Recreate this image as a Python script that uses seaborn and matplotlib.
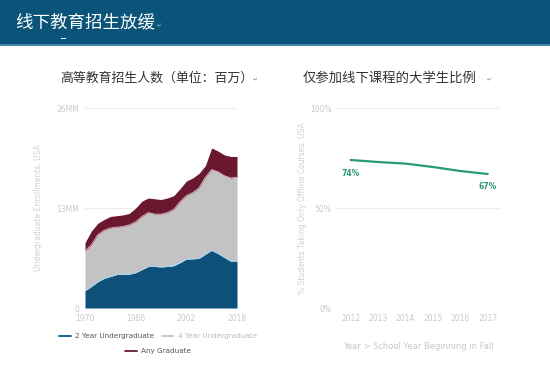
import matplotlib
matplotlib.use("Agg")
import matplotlib.pyplot as plt
from matplotlib.patches import Rectangle
from matplotlib.lines import Line2D
import seaborn as sns
import pandas as pd

# ---------------- data ----------------
years = [1970, 1972, 1974, 1976, 1978, 1980, 1982, 1984, 1986, 1988, 1990, 1992,
         1994, 1996, 1998, 2000, 2002, 2004, 2006, 2008, 2010, 2012, 2014, 2016, 2018]
two_year = [2.25, 2.8, 3.4, 3.85, 4.1, 4.35, 4.4, 4.4, 4.6, 5.0, 5.4, 5.4,
            5.35, 5.4, 5.5, 5.9, 6.35, 6.4, 6.45, 7.0, 7.5, 7.1, 6.6, 6.1, 6.1]
four_year = [5.15, 5.4, 6.1, 6.25, 6.3, 6.15, 6.2, 6.4, 6.6, 6.9, 7.0, 6.8,
             6.85, 7.0, 7.3, 7.9, 8.25, 8.6, 9.15, 10.0, 10.5, 10.6, 10.6, 10.8, 10.9]
graduate = [1.1, 1.8, 1.5, 1.4, 1.5, 1.5, 1.5, 1.5, 1.8, 2.0, 1.9, 2.0,
            1.9, 1.9, 1.8, 1.7, 1.9, 1.9, 1.9, 1.5, 2.8, 2.7, 2.7, 2.8, 2.7]
left_yticks = [0, 13, 26]
left_ytick_labels = ["0", "13MM", "26MM"]
left_xticks = [1970, 1986, 2002, 2018]

pct_years = [2012, 2013, 2014, 2015, 2016, 2017]
pct_offline = [74, 73, 72.2, 70.5, 68.5, 67]
right_yticks = [0, 50, 100]
right_ytick_labels = ["0%", "50%", "100%"]

C_BLUE = "#0e5079"
C_GRAY = "#c3c3c3"
C_MAROON = "#6a1830"
C_GREEN = "#2a9a76"
C_TICK = "#c9c9c9"

sns.set_theme(style="white")
plt.rcParams['font.family'] = ['Noto Sans CJK SC', 'DejaVu Sans']

fig = plt.figure(figsize=(5.5, 3.87), dpi=100)
W, H = 550, 387

def fx(px):
    return px / W

def fy(py):
    return 1 - py / H

# header band
fig.patches.append(Rectangle((0, fy(44)), 1, 44 / H, transform=fig.transFigure,
                             facecolor="#0b5479", edgecolor="none", zorder=0))
fig.patches.append(Rectangle((0, fy(46)), 1, 2 / H, transform=fig.transFigure,
                             facecolor="#3f86a8", edgecolor="none", zorder=0))
fig.patches.append(Rectangle((fx(61), fy(39)), 5 / W, 1.5 / H, transform=fig.transFigure,
                             facecolor="white", edgecolor="none", zorder=1))
fig.text(fx(15), fy(22), "线下教育招生放缓", color="white", fontsize=12.6,
         va="center", ha="left")
fig.text(fx(157), fy(26), "↵", color="#9fb8c8", fontsize=4, va="center", ha="left",
         family=['DejaVu Sans'])

# subtitles
fig.text(fx(60), fy(78), "高等教育招生人数（单位：百万）", color="#333333", fontsize=9.3,
         va="center", ha="left")
fig.text(fx(253), fy(80), "↵", color="#888888", fontsize=4, va="center", ha="left",
         family=['DejaVu Sans'])
fig.text(fx(303), fy(78), "仅参加线下课程的大学生比例", color="#333333", fontsize=9.6,
         va="center", ha="left")
fig.text(fx(487), fy(80), "↵", color="#888888", fontsize=4, va="center", ha="left",
         family=['DejaVu Sans'])

# ---------------- left chart ----------------
axL = fig.add_axes([fx(85), fy(308), fx(237) - fx(85), (308 - 108) / H])
df = pd.DataFrame({"year": years, "two": two_year, "four": four_year, "grad": graduate})
axL.stackplot(df["year"], df["two"], df["four"], df["grad"],
              colors=[C_BLUE, C_GRAY, C_MAROON], linewidth=0)
df["s1"] = df["two"]
df["s2"] = df["two"] + df["four"]
sns.lineplot(data=df, x="year", y="s1", ax=axL, color="#a9d6ee", linewidth=0.8)
sns.lineplot(data=df, x="year", y="s2", ax=axL, color="#e8b8c4", linewidth=0.6)
axL.set_xlim(1970, 2018)
axL.set_ylim(0, 26)
axL.set_yticks(left_yticks)
axL.set_yticklabels(left_ytick_labels)
axL.set_xticks(left_xticks)
for s in axL.spines.values():
    s.set_visible(False)
axL.yaxis.grid(True, color="#ececec", linewidth=0.8)
axL.set_axisbelow(True)
axL.tick_params(axis="both", colors=C_TICK, labelsize=5.5, length=0, pad=4)
axL.set_xlabel("")
axL.set_ylabel("Undergraduate Enrollments, USA", color="#d0d0d0", fontsize=5.5,
               family=['DejaVu Sans'], labelpad=10)
for lab in axL.get_xticklabels() + axL.get_yticklabels():
    lab.set_family(['DejaVu Sans'])

# legend
h1 = [Line2D([0], [0], color=C_BLUE, lw=1.3), Line2D([0], [0], color=C_GRAY, lw=1.3)]
leg1 = fig.legend(h1, ["2 Year Undergraduate", "4 Year Undergraduate"],
                  loc="center", bbox_to_anchor=(fx(158), fy(336)), ncol=2, frameon=False,
                  handlelength=1.6, columnspacing=1.0, handletextpad=0.6,
                  prop={'family': ['DejaVu Sans'], 'size': 5.2})
leg1.get_texts()[0].set_color("#555555")
leg1.get_texts()[1].set_color("#bbbbbb")
h2 = [Line2D([0], [0], color=C_MAROON, lw=1.3)]
leg2 = fig.legend(h2, ["Any Graduate"], loc="center", bbox_to_anchor=(fx(158), fy(351)),
                  frameon=False, handlelength=1.6, handletextpad=0.6,
                  prop={'family': ['DejaVu Sans'], 'size': 5.2})
leg2.get_texts()[0].set_color("#555555")

# ---------------- right chart ----------------
axR = fig.add_axes([fx(337), fy(308), fx(500) - fx(337), (308 - 108) / H])
dfr = pd.DataFrame({"year": pct_years, "pct": pct_offline})
sns.lineplot(data=dfr, x="year", y="pct", ax=axR, color=C_GREEN, linewidth=1.6)
axR.set_xlim(2011.5, 2017.45)
axR.set_ylim(0, 100)
axR.set_yticks(right_yticks)
axR.set_yticklabels(right_ytick_labels)
axR.set_xticks(pct_years)
for s in axR.spines.values():
    s.set_visible(False)
axR.yaxis.grid(True, color="#ececec", linewidth=0.8)
axR.set_axisbelow(True)
axR.tick_params(axis="both", colors=C_TICK, labelsize=5.5, length=0, pad=4)
axR.set_xlabel("Year > School Year Beginning in Fall", color="#c8c8c8", fontsize=6,
               family=['DejaVu Sans'], labelpad=14)
axR.set_ylabel("% Students Taking Only Offline Courses, USA", color="#d0d0d0",
               fontsize=5.5, family=['DejaVu Sans'], labelpad=2)
for lab in axR.get_xticklabels() + axR.get_yticklabels():
    lab.set_family(['DejaVu Sans'])
axR.annotate(f"{pct_offline[0]:.0f}%", (pct_years[0], pct_offline[0]), xytext=(0, -10),
             textcoords="offset points", ha="center", va="center", color=C_GREEN,
             fontsize=5.5, fontweight="bold", family=['DejaVu Sans'])
axR.annotate(f"{pct_offline[-1]:.0f}%", (pct_years[-1], pct_offline[-1]), xytext=(0, -9),
             textcoords="offset points", ha="center", va="center", color=C_GREEN,
             fontsize=5.5, fontweight="bold", family=['DejaVu Sans'])

fig.savefig("out.png", dpi=100)
